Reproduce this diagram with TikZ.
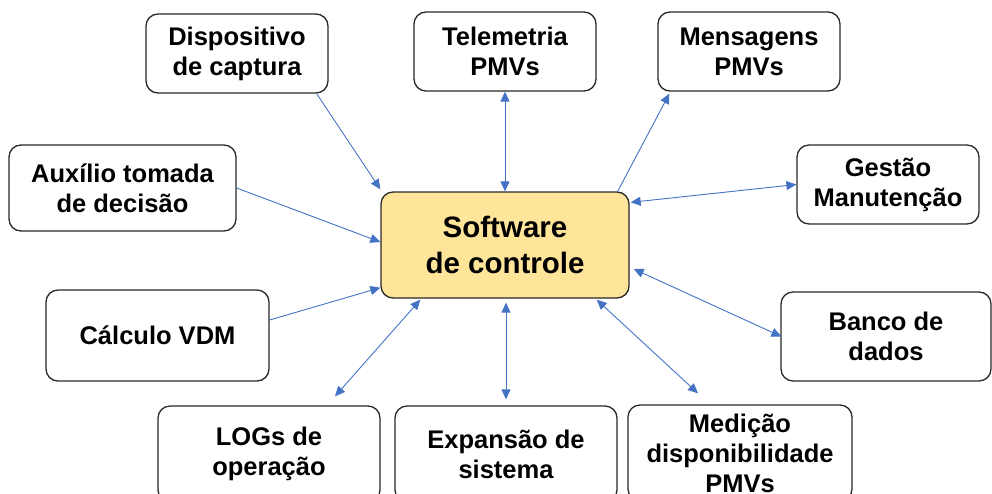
\documentclass[tikz,border=0pt]{standalone}
\usepackage{fontspec}
\setmainfont{Liberation Sans}
\usetikzlibrary{arrows.meta,calc}
\definecolor{linkblue}{RGB}{68,114,196}
\definecolor{swfill}{RGB}{255,229,153}
\definecolor{boxline}{RGB}{40,40,40}
\begin{document}
\begin{tikzpicture}[x=1pt,y=-1pt,
  box/.style={draw=boxline,line width=1.3pt,rounded corners=12pt,fill=white,
    inner sep=0pt,align=center,font=\fontsize{25.5}{30}\selectfont\bfseries},
  link/.style={draw=linkblue,line width=0.9pt},
  tip/.style={-{Triangle[length=10pt,width=9pt]}},
  both/.style={{Triangle[length=10pt,width=9pt]}-{Triangle[length=10pt,width=9pt]}}]
\useasboundingbox (0,0) rectangle (992,493);
\node[box,minimum width=182pt,minimum height=79pt] (disp) at (237,53.5) {Dispositivo\\de captura};
\node[box,minimum width=182pt,minimum height=79pt] (tele) at (505,51.5) {Telemetria\\PMVs};
\node[box,minimum width=182pt,minimum height=79pt] (mens) at (749,51.5) {Mensagens\\PMVs};
\node[box,minimum width=227pt,minimum height=86pt] (aux) at (122.5,188) {Auxílio tomada\\de decisão};
\node[box,minimum width=182pt,minimum height=79pt] (gest) at (888,184.5) {Gestão\\Manutenção};
\node[box,fill=swfill,minimum width=248pt,minimum height=106pt,font=\fontsize{29.5}{36}\selectfont\bfseries] (sw) at (505,245) {Software\\de controle};
\node[box,minimum width=223pt,minimum height=91pt] (calc) at (157.5,335.5) {Cálculo VDM};
\node[box,minimum width=210pt,minimum height=89pt] (banco) at (886,336.5) {Banco de\\dados};
\node[box,minimum width=222pt,minimum height=96pt] (logs) at (269,454) {LOGs de\\operação};
\node[box,minimum width=222pt,minimum height=96pt] (exp) at (506,454) {Expansão de\\sistema};
\node[box,minimum width=224pt,minimum height=96pt] (med) at (740,453) {Medição\\disponibilidade\\PMVs};
% connectors
\draw[link,tip] ($(disp.south east)+(-12,0)$) -- ($(sw.north west)+(0,-2)$);
\draw[link,both] (tele.south) -- (sw.north);
\draw[link,tip] ($(sw.north east)+(-12,0)$) -- ($(mens.south west)+(12,2)$);
\draw[link,both] ($(sw.north east)+(1,11)$) -- (gest.west);
\draw[link,tip] (aux.east) -- ($(sw.west)+(0,-3)$);
\draw[link,tip] ($(calc.east)+(0,-15.5)$) -- ($(sw.south west)+(0,-11)$);
\draw[link,both] ($(sw.east)+(4,24)$) -- ($(banco.west)+(1,0)$);
\draw[link,both] ($(sw.south west)+(40,1)$) -- ($(logs.north)+(66,-9)$);
\draw[link,both] ($(sw.south)+(1,4)$) -- ($(exp.north)+(0,-6)$);
\draw[link,both] ($(sw.south east)+(-33,1)$) -- ($(med.north)+(-42,-11)$);
\end{tikzpicture}
\end{document}
